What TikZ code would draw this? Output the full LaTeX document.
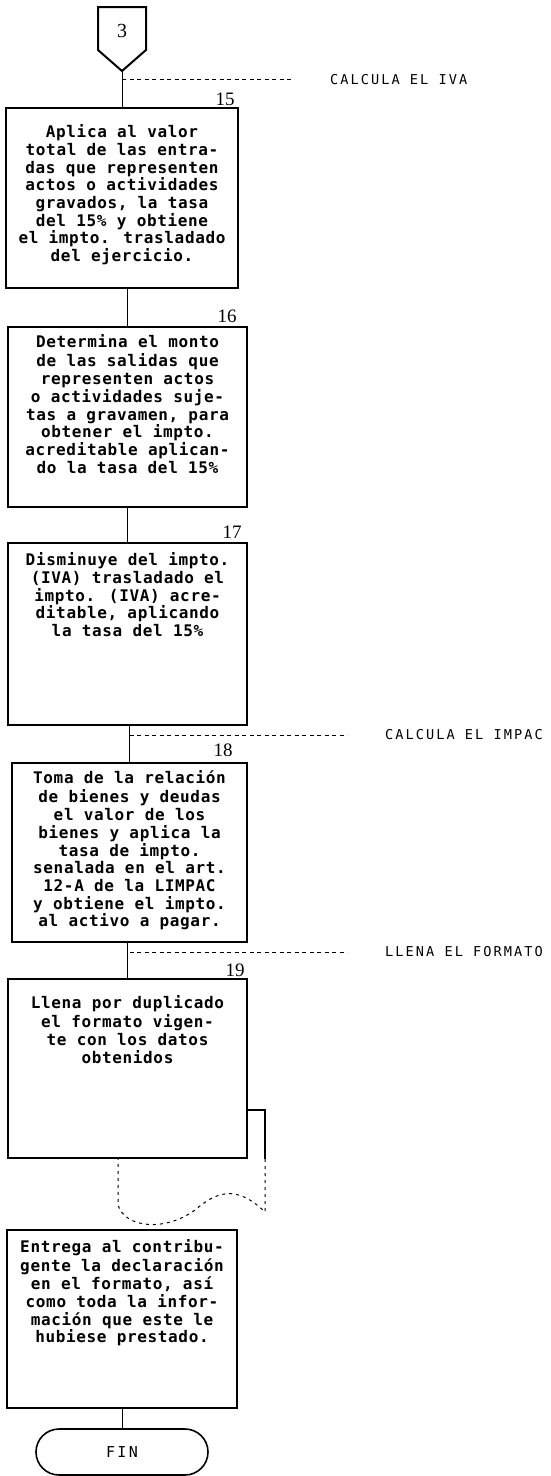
\documentclass[tikz,border=0pt]{standalone}
\usepackage{fontspec}
\usepackage{tikz}
\usetikzlibrary{positioning}
\setmainfont{Liberation Serif}
\newfontfamily\boxfont[LetterSpace=4]{DejaVu Sans Mono}
\newfontfamily\notefont[LetterSpace=15]{DejaVu Sans Mono}
% box text: height, top offset, lines
\newcommand{\steptext}[3]{\parbox[c][#1pt][t]{222pt}{\vspace*{#2pt}\centering\fontsize{16}{17.7}\boxfont\bfseries\selectfont\strut #3\par}}

\begin{document}
\begin{tikzpicture}[x=1pt,y=-1pt,
  procbox/.style={draw,line width=2.4pt,fill=white,inner sep=0pt},
  termbox/.style={draw,line width=1.6pt,rounded corners=23pt,minimum width=172pt,minimum height=46pt,inner sep=0pt,font=\fontsize{15}{17}\notefont},
  notelabel/.style={anchor=west,inner sep=0pt,font=\fontsize{13.6}{16}\notefont},
  notedash/.style={line width=0.9pt,dash pattern=on 4pt off 3.5pt},
  flow/.style={line width=0.9pt},
  stepnum/.style={inner sep=0pt,font=\fontsize{19}{21}\selectfont}]
\useasboundingbox[fill=white] (0,0) rectangle (551,1476);

% off-page connector
\draw[line width=2pt] (98,7) -- (146,7) -- (146,50) -- (122,71) -- (98,50) -- cycle;
\node[inner sep=0pt,font=\fontsize{20}{22}\selectfont] (con3) at (122,31) {3};
\coordinate (con3tip) at (122,71);

% steps
\node[procbox,minimum width=232pt] (b15) at (122,198) {\steptext{180}{16.6}{Aplica al valor\\total de las entra-\\das que representen\\actos o actividades\\gravados, la tasa\\del 15\% y obtiene\\el impto. trasladado\\del ejercicio.}};
\node[procbox,minimum width=239pt] (b16) at (127.5,417) {\steptext{180}{7.6}{Determina el monto\\de las salidas que\\representen actos\\o actividades suje-\\tas a gravamen, para\\obtener el impto.\\acreditable aplican-\\do la tasa del 15\%}};
\node[procbox,minimum width=239pt] (b17) at (127.5,634) {\steptext{182}{9.6}{Disminuye del impto.\\(IVA) trasladado el\\impto. (IVA) acre-\\ditable, aplicando\\la tasa del 15\%}};
\node[procbox,minimum width=235pt] (b18) at (129.5,852.5) {\steptext{179}{7.6}{Toma de la relación\\de bienes y deudas\\el valor de los\\bienes y aplica la\\tasa de impto.\\senalada en el art.\\12-A de la LIMPAC\\y obtiene el impto.\\al activo a pagar.}};
\node[procbox,minimum width=239pt] (b19) at (127.5,1068.5) {\steptext{179}{16.6}{Llena por duplicado\\el formato vigen-\\te con los datos\\obtenidos}};
\node[procbox,minimum width=230pt] (b20) at (122,1319) {\steptext{178}{9.6}{Entrega al contribu-\\gente la declaración\\en el formato, así\\como toda la infor-\\mación que este le\\hubiese prestado.}};
\node[termbox] (fin) at (122,1452) {FIN};

% step numbers
\node[stepnum] (n15) at (225,99) {15};
\node[stepnum] (n16) at (227,316) {16};
\node[stepnum] (n17) at (232,532) {17};
\node[stepnum] (n18) at (223,750) {18};
\node[stepnum] (n19) at (235,970) {19};

% flow lines
\draw[flow] (con3tip) -- (b15.north);
\draw[flow] (b16.north) -- (b16.north |- b15.south);
\draw[flow] (b17.north) -- (b17.north |- b16.south);
\draw[flow] (b18.north) -- (b18.north |- b17.south);
\draw[flow] (b19.north) -- (b19.north |- b18.south);
\draw[flow] (fin.north) -- (fin.north |- b20.south);

% duplicate form behind step 19
\coordinate (docTR) at (265,1110);
\coordinate (docBR) at (265,1212);
\coordinate (docBL) at (118,1205);
\draw[line width=1.8pt] (docTR -| b19.east) -- (docTR) -- (docTR |- b19.south);
\draw[line width=1pt,dash pattern=on 3pt off 4pt] (docTR |- b19.south) -- (docBR)
  .. controls (235,1183) and (215,1193) .. (195,1210)
  .. controls (165,1232) and (125,1228) .. (docBL) -- (docBL |- b19.south);

% section notes
\node[notelabel] (iva) at (330,80) {CALCULA EL IVA};
\node[notelabel] (impac) at (385,735) {CALCULA EL IMPAC};
\node[notelabel] (formato) at (385,952) {LLENA EL FORMATO};
\coordinate (ivaL) at (122,79);
\coordinate (ivaR) at (292,79);
\coordinate (impacL) at (129.5,735);
\coordinate (impacR) at (347,735);
\coordinate (formatoL) at (129.5,952);
\coordinate (formatoR) at (347,952);
\draw[notedash] (ivaL) -- (ivaR);
\draw[notedash] (impacL) -- (impacR);
\draw[notedash] (formatoL) -- (formatoR);
\end{tikzpicture}
\end{document}
